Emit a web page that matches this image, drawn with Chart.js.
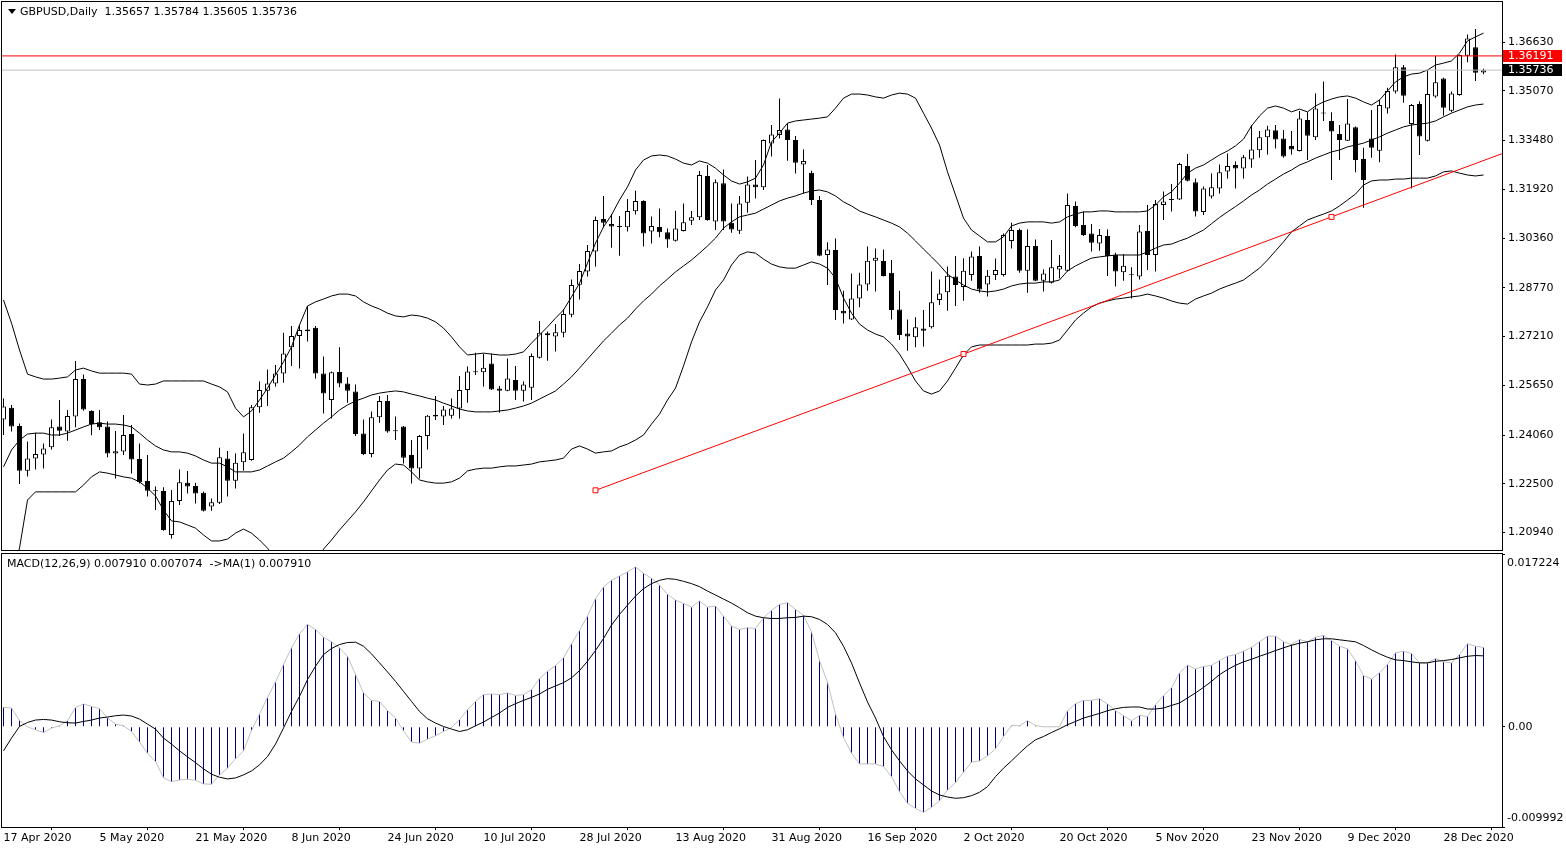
<!DOCTYPE html>
<html>
<head>
<meta charset="utf-8">
<script src="https://cdn.jsdelivr.net/npm/chart.js@4.4.1/dist/chart.umd.min.js"></script>
<style>
html, body { margin: 0; padding: 0; background: #fff; }
#wrap { position: relative; width: 1566px; height: 850px; overflow: hidden; }
canvas { position: absolute; left: 0; }
#price { top: 0; }
#macd { top: 552px; }
</style>
</head>
<body>
<div id="wrap">
    <canvas id="price" width="1566" height="552"></canvas>
    <canvas id="macd" width="1566" height="298"></canvas>
</div>
<script>
// GBPUSD daily, 17 Apr 2020 .. early Jan 2021, one entry per bar
const dateLabels = ['17 Apr 2020', '5 May 2020', '21 May 2020', '8 Jun 2020', '24 Jun 2020', '10 Jul 2020',
    '28 Jul 2020', '13 Aug 2020', '31 Aug 2020', '16 Sep 2020', '2 Oct 2020', '20 Oct 2020',
    '5 Nov 2020', '23 Nov 2020', '9 Dec 2020', '28 Dec 2020'];
const dateLabelBars = [0, 12, 24, 36, 48, 60, 72, 84, 96, 108, 120, 132, 144, 156, 168, 180];

const opens = [
    1.2456,1.2493,1.2435,1.2292,1.2331,1.2344,1.2367,1.2433,1.2417,1.2465,
    1.2585,1.2483,1.2447,1.2433,1.2347,1.2353,1.2409,1.2329,1.2259,1.2228,
    1.2227,1.2086,1.2195,1.2253,1.2243,1.2221,1.2177,1.2189,1.2331,1.2260,
    1.2319,1.2326,1.2495,1.2548,1.2571,1.2603,1.2687,1.2723,1.2738,1.2749,
    1.2603,1.2518,1.2608,1.2571,1.2545,1.2411,1.2345,1.2463,1.2515,1.2420,
    1.2433,1.2342,1.2299,1.2403,1.2470,1.2465,1.2468,1.2491,1.2550,1.2609,
    1.2607,1.2635,1.2555,1.2548,1.2582,1.2548,1.2557,1.2653,1.2732,1.2721,
    1.2733,1.2791,1.2887,1.2929,1.2993,1.3097,1.3081,1.3073,1.3071,1.3122,
    1.3155,1.3057,1.3072,1.3055,1.3028,1.3059,1.3092,1.3103,1.3235,1.3089,
    1.3212,1.3085,1.3060,1.3149,1.3208,1.3199,1.3339,1.3366,1.3384,1.3350,
    1.3272,1.3245,1.3158,1.2982,1.2998,1.2804,1.2776,1.2843,1.2888,1.2964,
    1.2963,1.2925,1.2808,1.2731,1.2719,1.2747,1.2751,1.2838,1.2863,1.2913,
    1.2880,1.2918,1.2979,1.2888,1.2918,1.2918,1.3027,1.3062,1.2932,1.3011,
    1.2900,1.2893,1.2936,1.2932,1.3139,1.3078,1.3051,1.3019,1.3043,1.2982,
    1.2927,1.2920,1.2913,1.3059,1.2982,1.3142,1.3158,1.3160,1.3267,1.3215,
    1.3120,1.3169,1.3195,1.3249,1.3270,1.3259,1.3288,1.3317,1.3359,1.3381,
    1.3355,1.3331,1.3315,1.3414,1.3359,1.3437,1.3411,1.3369,1.3348,1.3391,
    1.3289,1.3355,1.3316,1.3451,1.3505,1.3583,1.3401,1.3465,1.3348,1.3489,
    1.3547,1.3444,1.3494,1.3620,1.3647,1.35657
];
const highs = [
    1.2523,1.2502,1.2443,1.2385,1.2413,1.2379,1.2456,1.2518,1.2486,1.2643,
    1.2600,1.2485,1.2486,1.2449,1.2419,1.2470,1.2438,1.2379,1.2342,1.2241,
    1.2239,1.2230,1.2296,1.2291,1.2253,1.2225,1.2203,1.2365,1.2355,1.2347,
    1.2411,1.2502,1.2577,1.2616,1.2630,1.2733,1.2755,1.2758,1.2819,1.2755,
    1.2657,1.2609,1.2687,1.2591,1.2568,1.2456,1.2481,1.2531,1.2534,1.2465,
    1.2435,1.2390,1.2406,1.2470,1.2531,1.2499,1.2523,1.2595,1.2625,1.2669,
    1.2665,1.2667,1.2563,1.2651,1.2627,1.2577,1.2667,1.2771,1.2737,1.2761,
    1.2808,1.2904,1.2953,1.3014,1.3105,1.3171,1.3113,1.3107,1.3161,1.3188,
    1.3157,1.3105,1.3131,1.3067,1.3124,1.3147,1.3123,1.3251,1.3270,1.3224,
    1.3256,1.3147,1.3171,1.3233,1.3286,1.3352,1.3398,1.3483,1.3403,1.3363,
    1.3320,1.3252,1.3171,1.3023,1.3035,1.2868,1.2923,1.2925,1.3009,1.3003,
    1.3000,1.2966,1.2868,1.2776,1.2783,1.2806,1.2929,1.2904,1.2945,1.2979,
    1.2972,1.2993,1.3009,1.2934,1.2971,1.3051,1.3085,1.3067,1.3064,1.3032,
    1.2936,1.3030,1.2982,1.3179,1.3153,1.3121,1.3081,1.3065,1.3064,1.2989,
    1.2985,1.2943,1.3078,1.3142,1.3158,1.3185,1.3209,1.3277,1.3305,1.3227,
    1.3201,1.3243,1.3272,1.3307,1.3281,1.3302,1.3398,1.3379,1.3396,1.3398,
    1.3382,1.3379,1.3443,1.3439,1.3499,1.3537,1.3439,1.3398,1.3481,1.3393,
    1.3325,1.3446,1.3478,1.3517,1.3624,1.3590,1.3465,1.3473,1.3574,1.3620,
    1.3549,1.3505,1.3624,1.3688,1.3705,1.35784
];
const lows = [
    1.2406,1.2417,1.2249,1.2273,1.2296,1.2299,1.2360,1.2403,1.2388,1.2431,
    1.2484,1.2405,1.2422,1.2335,1.2267,1.2342,1.2283,1.2251,1.2209,1.2166,
    1.2100,1.2075,1.2182,1.2219,1.2187,1.2161,1.2164,1.2185,1.2209,1.2235,
    1.2292,1.2324,1.2477,1.2499,1.2561,1.2573,1.2627,1.2619,1.2705,1.2587,
    1.2475,1.2459,1.2559,1.2509,1.2403,1.2342,1.2335,1.2445,1.2413,1.2390,
    1.2315,1.2251,1.2267,1.2360,1.2454,1.2438,1.2459,1.2459,1.2509,1.2598,
    1.2561,1.2550,1.2477,1.2546,1.2518,1.2513,1.2518,1.2651,1.2644,1.2673,
    1.2719,1.2783,1.2840,1.2913,1.2945,1.3071,1.3005,1.2980,1.3057,1.3112,
    1.3009,1.3019,1.3039,1.3005,1.3025,1.3057,1.3078,1.3094,1.3092,1.3062,
    1.3062,1.3053,1.3049,1.3117,1.3163,1.3190,1.3297,1.3355,1.3284,1.3243,
    1.3179,1.3142,1.2978,1.2886,1.2774,1.2763,1.2774,1.2815,1.2868,1.2865,
    1.2913,1.2776,1.2710,1.2676,1.2687,1.2689,1.2747,1.2822,1.2804,1.2819,
    1.2836,1.2900,1.2861,1.2849,1.2902,1.2913,1.3003,1.2925,1.2861,1.2898,
    1.2865,1.2891,1.2907,1.2929,1.3071,1.3043,1.2993,1.2996,1.2915,1.2881,
    1.2900,1.2843,1.2904,1.2934,1.2929,1.3094,1.3121,1.3158,1.3217,1.3105,
    1.3110,1.3163,1.3179,1.3227,1.3195,1.3227,1.3261,1.3293,1.3304,1.3323,
    1.3293,1.3304,1.3313,1.3286,1.3350,1.3411,1.3222,1.3286,1.3347,1.3247,
    1.3133,1.3293,1.3279,1.3435,1.3499,1.3469,1.3195,1.3302,1.3345,1.3485,
    1.3428,1.3439,1.3492,1.3599,1.3539,1.35605
];
const closes = [
    1.2497,1.2433,1.2292,1.2331,1.2345,1.2363,1.2431,1.2420,1.2467,1.2585,
    1.2488,1.2441,1.2431,1.2347,1.2354,1.2406,1.2328,1.2255,1.2228,1.2226,
    1.2102,1.2195,1.2255,1.2241,1.2219,1.2164,1.2191,1.2335,1.2260,1.2317,
    1.2351,1.2495,1.2550,1.2571,1.2603,1.2667,1.2723,1.2742,1.2744,1.2603,
    1.2539,1.2607,1.2571,1.2548,1.2409,1.2345,1.2463,1.2515,1.2417,1.2418,
    1.2333,1.2299,1.2403,1.2468,1.2465,1.2488,1.2491,1.2550,1.2609,1.2607,
    1.2621,1.2552,1.2548,1.2587,1.2548,1.2568,1.2659,1.2733,1.2725,1.2735,
    1.2793,1.2886,1.2931,1.2995,1.3094,1.3085,1.3073,1.3072,1.3123,1.3155,
    1.3051,1.3075,1.3055,1.3032,1.3067,1.3087,1.3103,1.3238,1.3094,1.3215,
    1.3089,1.3064,1.3147,1.3208,1.3199,1.3350,1.3368,1.3382,1.3350,1.3277,
    1.3283,1.3158,1.2980,1.3000,1.2806,1.2795,1.2843,1.2888,1.2964,1.2973,
    1.2915,1.2806,1.2726,1.2721,1.2751,1.2740,1.2831,1.2859,1.2916,1.2886,
    1.2932,1.2977,1.2872,1.2916,1.2934,1.3046,1.3062,1.2932,1.3011,1.2900,
    1.2923,1.2943,1.2947,1.3142,1.3075,1.3046,1.3021,1.3046,1.2979,1.2929,
    1.2948,1.2917,1.3057,1.2982,1.3145,1.3153,1.3160,1.3273,1.3220,1.3121,
    1.3195,1.3199,1.3247,1.3267,1.3259,1.3295,1.3320,1.3359,1.3384,1.3352,
    1.3297,1.3320,1.3419,1.3364,1.3451,1.3435,1.3377,1.3350,1.3403,1.3286,
    1.3222,1.3325,1.3462,1.3507,1.3583,1.3492,1.3462,1.3361,1.3497,1.3535,
    1.3453,1.3499,1.3622,1.3675,1.3565,1.35736
];

// Bollinger bands (20, 2)
const bbUpper = [
    1.2838,1.2764,1.2678,1.2601,1.2592,1.2585,1.2585,1.2588,1.2592,1.2614,
    1.2620,1.2611,1.2604,1.2604,1.2604,1.2604,1.2601,1.2569,1.2566,1.2569,
    1.2579,1.2579,1.2579,1.2579,1.2579,1.2579,1.2569,1.2560,1.2544,1.2492,
    1.2464,1.2483,1.2518,1.2556,1.2598,1.2640,1.2688,1.2758,1.2819,1.2832,
    1.2841,1.2851,1.2857,1.2857,1.2851,1.2832,1.2819,1.2809,1.2796,1.2787,
    1.2784,1.2790,1.2787,1.2780,1.2768,1.2748,1.2720,1.2688,1.2662,1.2665,
    1.2668,1.2665,1.2662,1.2662,1.2665,1.2672,1.2700,1.2726,1.2752,1.2780,
    1.2806,1.2848,1.2892,1.2956,1.3020,1.3072,1.3110,1.3158,1.3200,1.3254,
    1.3286,1.3299,1.3302,1.3299,1.3289,1.3276,1.3270,1.3283,1.3276,1.3260,
    1.3238,1.3219,1.3209,1.3216,1.3228,1.3270,1.3344,1.3372,1.3404,1.3411,
    1.3414,1.3417,1.3420,1.3424,1.3452,1.3484,1.3497,1.3497,1.3494,1.3488,
    1.3484,1.3494,1.3500,1.3497,1.3484,1.3436,1.3388,1.3334,1.3248,1.3174,
    1.3100,1.3062,1.3043,1.3024,1.3024,1.3040,1.3075,1.3084,1.3088,1.3088,
    1.3088,1.3084,1.3088,1.3104,1.3113,1.3120,1.3120,1.3123,1.3123,1.3120,
    1.3120,1.3120,1.3120,1.3123,1.3142,1.3168,1.3184,1.3212,1.3244,1.3260,
    1.3270,1.3286,1.3302,1.3315,1.3331,1.3353,1.3395,1.3427,1.3452,1.3459,
    1.3452,1.3440,1.3449,1.3440,1.3459,1.3472,1.3481,1.3488,1.3491,1.3484,
    1.3472,1.3462,1.3478,1.3507,1.3536,1.3552,1.3561,1.3564,1.3574,1.3590,
    1.3596,1.3603,1.3628,1.3667,1.3680,1.3692
];
const bbMiddle = [
    1.2304,1.2358,1.2390,1.2409,1.2412,1.2412,1.2406,1.2406,1.2412,1.2422,
    1.2432,1.2441,1.2444,1.2441,1.2441,1.2438,1.2432,1.2412,1.2390,1.2371,
    1.2358,1.2352,1.2352,1.2348,1.2339,1.2326,1.2316,1.2316,1.2304,1.2288,
    1.2288,1.2288,1.2294,1.2307,1.2320,1.2332,1.2352,1.2374,1.2400,1.2422,
    1.2444,1.2464,1.2486,1.2502,1.2515,1.2524,1.2534,1.2540,1.2544,1.2547,
    1.2544,1.2537,1.2531,1.2524,1.2518,1.2508,1.2499,1.2489,1.2483,1.2480,
    1.2480,1.2480,1.2483,1.2486,1.2492,1.2499,1.2508,1.2521,1.2534,1.2547,
    1.2569,1.2592,1.2620,1.2649,1.2678,1.2707,1.2732,1.2758,1.2780,1.2809,
    1.2835,1.2857,1.2883,1.2905,1.2928,1.2947,1.2966,1.2988,1.3011,1.3036,
    1.3068,1.3088,1.3104,1.3110,1.3116,1.3129,1.3142,1.3155,1.3164,1.3171,
    1.3180,1.3187,1.3190,1.3184,1.3171,1.3152,1.3139,1.3123,1.3113,1.3104,
    1.3094,1.3084,1.3072,1.3052,1.3027,1.3001,1.2976,1.2950,1.2921,1.2902,
    1.2886,1.2873,1.2867,1.2864,1.2867,1.2873,1.2883,1.2889,1.2892,1.2892,
    1.2896,1.2896,1.2902,1.2931,1.2947,1.2960,1.2972,1.2976,1.2979,1.2982,
    1.2982,1.2982,1.2982,1.2992,1.3004,1.3014,1.3017,1.3027,1.3036,1.3049,
    1.3062,1.3082,1.3102,1.3120,1.3137,1.3155,1.3174,1.3190,1.3209,1.3225,
    1.3241,1.3254,1.3270,1.3280,1.3292,1.3302,1.3312,1.3318,1.3328,1.3334,
    1.3340,1.3350,1.3360,1.3372,1.3382,1.3392,1.3398,1.3401,1.3404,1.3411,
    1.3424,1.3436,1.3446,1.3456,1.3462,1.3465
];
const bbLower = [
    1.1769,1.1952,1.2044,1.2198,1.2224,1.2224,1.2224,1.2224,1.2224,1.2224,
    1.2246,1.2272,1.2288,1.2284,1.2278,1.2272,1.2268,1.2256,1.2236,1.2211,
    1.2166,1.2131,1.2128,1.2118,1.2108,1.2086,1.2067,1.2067,1.2073,1.2092,
    1.2105,1.2092,1.2070,1.2044,1.2012,1.1974,1.1926,1.1878,1.1862,1.1942,
    1.2041,1.2070,1.2102,1.2131,1.2160,1.2192,1.2227,1.2262,1.2294,1.2313,
    1.2310,1.2288,1.2262,1.2256,1.2252,1.2252,1.2256,1.2268,1.2291,1.2297,
    1.2300,1.2300,1.2304,1.2307,1.2307,1.2310,1.2313,1.2320,1.2323,1.2326,
    1.2332,1.2361,1.2371,1.2361,1.2348,1.2352,1.2355,1.2368,1.2377,1.2390,
    1.2406,1.2441,1.2473,1.2518,1.2556,1.2627,1.2704,1.2768,1.2816,1.2870,
    1.2902,1.2950,1.2982,1.2992,1.2988,1.2969,1.2953,1.2944,1.2940,1.2940,
    1.2950,1.2960,1.2953,1.2940,1.2908,1.2844,1.2796,1.2761,1.2742,1.2729,
    1.2720,1.2697,1.2665,1.2624,1.2579,1.2547,1.2537,1.2547,1.2579,1.2620,
    1.2662,1.2688,1.2694,1.2694,1.2694,1.2694,1.2694,1.2694,1.2694,1.2697,
    1.2697,1.2700,1.2710,1.2742,1.2774,1.2796,1.2816,1.2828,1.2835,1.2841,
    1.2844,1.2848,1.2851,1.2857,1.2851,1.2844,1.2835,1.2828,1.2825,1.2841,
    1.2851,1.2860,1.2873,1.2883,1.2892,1.2902,1.2921,1.2940,1.2966,1.2995,
    1.3024,1.3056,1.3075,1.3094,1.3104,1.3113,1.3123,1.3139,1.3158,1.3177,
    1.3206,1.3219,1.3222,1.3222,1.3225,1.3225,1.3228,1.3228,1.3228,1.3235,
    1.3248,1.3251,1.3244,1.3238,1.3235,1.3238
];

// MACD(12,26,9): main value (histogram) and signal line
const macdMain = [
    0.00193,0.00187,0.00063,0.00000,-0.00030,-0.00057,-0.00013,0.00010,0.00060,0.00193,
    0.00227,0.00203,0.00180,0.00087,0.00027,0.00010,-0.00047,-0.00153,-0.00263,-0.00347,
    -0.00507,-0.00547,-0.00530,-0.00523,-0.00533,-0.00570,-0.00573,-0.00480,-0.00413,-0.00320,
    -0.00240,-0.00037,0.00127,0.00293,0.00447,0.00620,0.00787,0.00927,0.01020,0.00970,
    0.00893,0.00847,0.00787,0.00703,0.00520,0.00337,0.00263,0.00253,0.00160,0.00087,
    -0.00040,-0.00153,-0.00163,-0.00123,-0.00090,-0.00047,-0.00007,0.00070,0.00170,0.00253,
    0.00320,0.00327,0.00320,0.00337,0.00313,0.00320,0.00370,0.00480,0.00553,0.00610,
    0.00687,0.00827,0.00960,0.01103,0.01277,0.01393,0.01460,0.01503,0.01543,0.01593,
    0.01530,0.01480,0.01413,0.01320,0.01263,0.01230,0.01193,0.01253,0.01193,0.01203,
    0.01103,0.01003,0.00970,0.00987,0.00980,0.01087,0.01160,0.01220,0.01237,0.01170,
    0.01113,0.00947,0.00660,0.00443,0.00127,-0.00107,-0.00263,-0.00370,-0.00370,-0.00370,
    -0.00397,-0.00497,-0.00647,-0.00763,-0.00813,-0.00853,-0.00803,-0.00740,-0.00630,-0.00557,
    -0.00453,-0.00353,-0.00340,-0.00290,-0.00220,-0.00097,0.00013,0.00010,0.00060,0.00013,
    0.00000,0.00000,0.00000,0.00160,0.00230,0.00263,0.00263,0.00280,0.00227,0.00160,
    0.00110,0.00060,0.00113,0.00103,0.00220,0.00310,0.00387,0.00537,0.00613,0.00577,
    0.00600,0.00613,0.00660,0.00703,0.00720,0.00753,0.00793,0.00847,0.00903,0.00903,
    0.00847,0.00820,0.00870,0.00847,0.00893,0.00910,0.00860,0.00803,0.00777,0.00660,
    0.00510,0.00477,0.00537,0.00620,0.00737,0.00753,0.00730,0.00637,0.00637,0.00680,
    0.00647,0.00637,0.00720,0.00827,0.00803,0.00791
];
const macdSignal = [
    -0.00240,-0.00113,0.00003,0.00043,0.00067,0.00073,0.00067,0.00050,0.00040,0.00037,
    0.00053,0.00067,0.00087,0.00097,0.00110,0.00117,0.00107,0.00077,0.00027,-0.00023,
    -0.00113,-0.00173,-0.00240,-0.00300,-0.00357,-0.00420,-0.00473,-0.00503,-0.00520,-0.00510,
    -0.00480,-0.00440,-0.00380,-0.00297,-0.00173,-0.00013,0.00153,0.00303,0.00470,0.00603,
    0.00720,0.00780,0.00820,0.00840,0.00843,0.00803,0.00727,0.00637,0.00547,0.00453,
    0.00353,0.00253,0.00153,0.00080,0.00037,0.00003,-0.00023,-0.00047,-0.00030,0.00010,
    0.00047,0.00093,0.00137,0.00193,0.00230,0.00263,0.00293,0.00327,0.00373,0.00407,
    0.00440,0.00487,0.00560,0.00653,0.00760,0.00880,0.01013,0.01120,0.01213,0.01303,
    0.01377,0.01427,0.01460,0.01477,0.01470,0.01450,0.01427,0.01397,0.01353,0.01313,
    0.01273,0.01233,0.01187,0.01137,0.01103,0.01087,0.01080,0.01080,0.01087,0.01090,
    0.01103,0.01097,0.01070,0.01020,0.00937,0.00803,0.00637,0.00437,0.00247,0.00087,
    -0.00097,-0.00230,-0.00340,-0.00440,-0.00520,-0.00580,-0.00640,-0.00680,-0.00700,-0.00713,
    -0.00707,-0.00687,-0.00653,-0.00597,-0.00497,-0.00413,-0.00340,-0.00263,-0.00190,-0.00130,
    -0.00097,-0.00057,-0.00020,0.00020,0.00053,0.00087,0.00110,0.00133,0.00160,0.00180,
    0.00193,0.00197,0.00197,0.00177,0.00177,0.00187,0.00213,0.00237,0.00287,0.00337,
    0.00393,0.00453,0.00520,0.00570,0.00613,0.00647,0.00673,0.00703,0.00730,0.00760,
    0.00787,0.00813,0.00833,0.00847,0.00867,0.00877,0.00877,0.00867,0.00857,0.00847,
    0.00810,0.00767,0.00727,0.00693,0.00667,0.00660,0.00647,0.00637,0.00637,0.00653,
    0.00660,0.00670,0.00687,0.00703,0.00710,0.00707
];

// objects drawn on the chart
const trendBars = [74, 120, 166, 187.5];
const trendPrices = [1.2229, 1.2665, 1.3104, 1.3308];
const resistanceLevel = 1.36191;
const lastClose = 1.35736;

const priceTicks = [1.3663, 1.3507, 1.3348, 1.3192, 1.3036, 1.2877, 1.2721, 1.2565, 1.2406, 1.2250, 1.2094];
const macdTicks = [0.017224, 0, -0.009992];

const headerText = 'GBPUSD,Daily  1.35657 1.35784 1.35605 1.35736';
const macdText = 'MACD(12,26,9) 0.007910 0.007074  ->MA(1) 0.007910';

const xMin = -0.1875, xMax = 187.3125;
const priceMin = 1.2038, priceMax = 1.37916;
const FONT = '11px "DejaVu Sans"';

Chart.defaults.font.family = '"DejaVu Sans"';
Chart.defaults.font.size = 11;
Chart.defaults.color = '#000';

const pts = arr => arr.map((v, i) => ({ x: i, y: v }));

// fixed axis sizes, no extra padding for edge labels
const fitRight = s => { s.width = 64; s.paddingTop = 0; s.paddingBottom = 0; };
const fitBottom = s => { s.height = 23; s.paddingLeft = 0; s.paddingRight = 0; };

const framePlugin =
{
    id: 'frame',
    afterDraw(chart)
    {
        const { ctx, chartArea: a } = chart;
        ctx.save();
        ctx.strokeStyle = '#000';
        ctx.lineWidth = 1;
        ctx.strokeRect(1.5, a.top - 0.5, a.right - 1, a.bottom - a.top + 1);
        ctx.restore();
    }
};

const priceOverlay =
{
    id: 'priceOverlay',
    afterDraw(chart)
    {
        const ctx = chart.ctx;
        const y = chart.scales.y;
        ctx.save();
        ctx.font = FONT;
        ctx.textBaseline = 'middle';
        ctx.textAlign = 'left';

        // header
        ctx.fillStyle = '#000';
        ctx.beginPath();
        ctx.moveTo(8, 9);
        ctx.lineTo(16, 9);
        ctx.lineTo(12, 14);
        ctx.closePath();
        ctx.fill();
        ctx.fillText(headerText, 20, 12);

        // price boxes on the axis
        [[resistanceLevel, '#ff0000'], [lastClose, '#000000']].forEach(([v, c]) =>
        {
            const py = Math.round(y.getPixelForValue(v));
            ctx.fillStyle = c;
            ctx.fillRect(y.left + 1, py - 6, 59, 12);
            ctx.fillStyle = '#fff';
            ctx.fillText(v.toFixed(5), y.left + 6, py + 0.5);
        });
        ctx.restore();
    }
};

const macdOverlay =
{
    id: 'macdOverlay',
    afterDraw(chart)
    {
        const ctx = chart.ctx;
        const y = chart.scales.y;
        ctx.save();
        ctx.font = FONT;
        ctx.textBaseline = 'middle';
        ctx.textAlign = 'left';
        ctx.fillStyle = '#000';
        ctx.fillText(macdText, 7, 12);
        ctx.fillText(macdTicks[0].toFixed(6), y.left + 5, y.getPixelForValue(macdTicks[0]) + 9);
        ctx.fillText(macdTicks[2].toFixed(6), y.left + 5, y.getPixelForValue(macdTicks[2]) - 9);
        ctx.restore();
    }
};

const lineSet = (data, color, order) => ({
    type: 'line',
    data: data,
    borderColor: color,
    borderWidth: 1,
    pointRadius: 0,
    tension: 0,
    order: order
});

new Chart(document.getElementById('price'),
{
    type: 'bar',
    data:
    {
        datasets:
        [
            {
                type: 'line',
                data: trendBars.slice(0, 3).map((b, i) => ({ x: b, y: trendPrices[i] })),
                showLine: false,
                pointStyle: 'rect',
                pointRadius: 3.5,
                pointBorderWidth: 1,
                pointBorderColor: '#ff0000',
                pointBackgroundColor: '#ffffff',
                order: 0
            },
            lineSet(trendBars.map((b, i) => ({ x: b, y: trendPrices[i] })), '#ff0000', 1),
            lineSet([{ x: xMin, y: resistanceLevel }, { x: xMax, y: resistanceLevel }], '#ff0000', 2),
            lineSet([{ x: xMin, y: lastClose }, { x: xMax, y: lastClose }], '#c0c0c0', 2),
            lineSet(pts(bbUpper), '#000000', 3),
            lineSet(pts(bbMiddle), '#000000', 3),
            lineSet(pts(bbLower), '#000000', 3),
            {
                data: opens.map((o, i) => ({ x: i, y: [o, closes[i]] })),
                barThickness: 5,
                backgroundColor: c => closes[c.dataIndex] >= opens[c.dataIndex] ? '#ffffff' : '#000000',
                borderColor: '#000000',
                borderWidth: 1,
                borderSkipped: false,
                inflateAmount: 0,
                minBarLength: 1,
                grouped: false,
                order: 4
            },
            {
                data: lows.map((l, i) => ({ x: i, y: [l, highs[i]] })),
                barThickness: 1,
                backgroundColor: '#000000',
                borderWidth: 0,
                inflateAmount: 0,
                grouped: false,
                order: 5
            }
        ]
    },
    options:
    {
        responsive: false,
        animation: false,
        devicePixelRatio: 1,
        events: [],
        layout: { autoPadding: false, padding: { left: 2, top: 2, right: 0, bottom: 2 } },
        plugins: { legend: { display: false }, tooltip: { enabled: false } },
        scales:
        {
            x: { type: 'linear', display: false, min: xMin, max: xMax, offset: false },
            y:
            {
                position: 'right',
                min: priceMin,
                max: priceMax,
                afterFit: fitRight,
                afterBuildTicks: s => { s.ticks = priceTicks.map(v => ({ value: v })); },
                ticks: { callback: v => v.toFixed(5), padding: 3, color: '#000' },
                grid: { drawOnChartArea: false, drawTicks: true, tickLength: 3, color: '#000' },
                border: { display: false }
            }
        }
    },
    plugins: [framePlugin, priceOverlay]
});

new Chart(document.getElementById('macd'),
{
    type: 'bar',
    data:
    {
        datasets:
        [
            lineSet(pts(macdSignal), '#000000', 0),
            lineSet(pts(macdMain), '#c0c0c0', 1),
            {
                data: pts(macdMain),
                barThickness: 1,
                backgroundColor: '#000080',
                borderWidth: 0,
                inflateAmount: 0,
                grouped: false,
                order: 2
            }
        ]
    },
    options:
    {
        responsive: false,
        animation: false,
        devicePixelRatio: 1,
        events: [],
        layout: { autoPadding: false, padding: { left: 2, top: 2, right: 0, bottom: 0 } },
        plugins: { legend: { display: false }, tooltip: { enabled: false } },
        scales:
        {
            x:
            {
                type: 'linear',
                min: xMin,
                max: xMax,
                offset: false,
                afterFit: fitBottom,
                afterBuildTicks: s => { s.ticks = dateLabelBars.map(v => ({ value: v })); },
                ticks:
                {
                    autoSkip: false,
                    maxRotation: 0,
                    minRotation: 0,
                    align: 'start',
                    padding: 2,
                    color: '#000',
                    callback: v => dateLabels[dateLabelBars.indexOf(v)]
                },
                grid: { drawOnChartArea: false, drawTicks: true, tickLength: 3, color: '#000' },
                border: { display: false }
            },
            y:
            {
                position: 'right',
                min: macdTicks[2],
                max: macdTicks[0],
                afterFit: fitRight,
                afterBuildTicks: s => { s.ticks = macdTicks.map(v => ({ value: v })); },
                ticks: { callback: v => v === 0 ? '0.00' : '', padding: 3, color: '#000' },
                grid: { drawOnChartArea: false, drawTicks: true, tickLength: 3, color: '#000' },
                border: { display: false }
            }
        }
    },
    plugins: [framePlugin, macdOverlay]
});
</script>
</body>
</html>
